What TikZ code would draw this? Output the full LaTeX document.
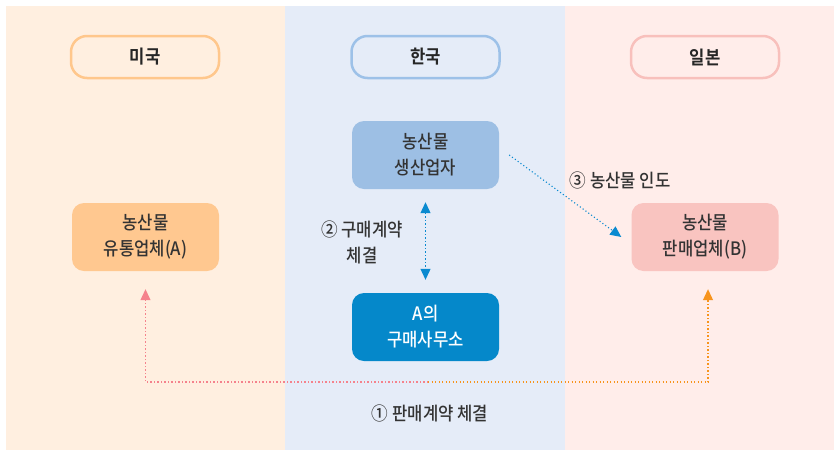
\documentclass[tikz,border=0pt]{standalone}
\usepackage{fontspec}
\setmainfont{Noto Sans CJK KR Medium}[BoldFont={Noto Sans CJK KR Bold}, FakeStretch=0.9]
\usetikzlibrary{arrows.meta}
\definecolor{usbg}{RGB}{255,239,224}
\definecolor{krbg}{RGB}{229,236,248}
\definecolor{jpbg}{RGB}{255,237,234}
\definecolor{usline}{RGB}{255,199,140}
\definecolor{krline}{RGB}{157,193,232}
\definecolor{jpline}{RGB}{248,192,188}
\definecolor{afill}{RGB}{255,200,144}
\definecolor{farmfill}{RGB}{157,191,228}
\definecolor{officefill}{RGB}{5,136,202}
\definecolor{bfill}{RGB}{249,196,192}
\definecolor{arrowblue}{RGB}{10,138,208}
\definecolor{arrowpink}{RGB}{245,130,140}
\definecolor{arroworange}{RGB}{247,148,29}
\definecolor{txtgrey}{RGB}{51,51,51}

\begin{document}
\begin{tikzpicture}[x=1pt, y=-1pt, font=\fontsize{18.5}{26}\selectfont, text=txtgrey,
  hdr/.style={draw, line width=2.5pt, rounded corners=16pt, minimum width=148pt,
              minimum height=42pt, font=\fontsize{18.5}{20}\selectfont\bfseries, text=black!85},
  box/.style={rounded corners=12pt, minimum width=147pt, minimum height=68pt, align=center},
  dots/.style={line width=1.1pt, dash pattern=on 1.1pt off 2.4pt},
  tip/.style={-{Triangle[width=10pt,length=11pt]}},
  twoway/.style={{Triangle[width=10pt,length=11pt]}-{Triangle[width=10pt,length=11pt]}}]
  \useasboundingbox (0,0) rectangle (834,450);
  % country panels
  \fill[usbg] (6,6) rectangle (285,450);
  \fill[krbg] (285,6) rectangle (565,450);
  \fill[jpbg] (565,6) rectangle (834,450);
  % headers
  \node[hdr, draw=usline] (us) at (145,57) {미국};
  \node[hdr, draw=krline] (kr) at (425.5,57) {한국};
  \node[hdr, draw=jpline] (jp) at (705,57) {일본};
  % actors
  \node[box, fill=afill] (distA) at (145.5,237) {농산물\\유통업체(A)};
  \node[box, fill=farmfill] (farmer) at (425.5,155) {농산물\\생산업자};
  \node[box, fill=officefill, text=white] (office) at (425.5,327) {A의\\구매사무소};
  \node[box, fill=bfill] (sellB) at (705,237) {농산물\\판매업체(B)};
  % flows
  \draw[dots, twoway, arrowblue, shorten <=13pt, shorten >=13pt] (farmer) -- (office);
  \draw[dots, tip, arrowblue] ([xshift=10pt]farmer.east) -- ([xshift=-10pt]sellB.west);
  \coordinate (mid) at (428,382);
  \draw[dots, tip, arrowpink, shorten >=18pt] (mid) -| (distA.south);
  \draw[dots, tip, arroworange, shorten >=18pt] (mid) -| ([xshift=3pt]sellB.south);
  % labels
  \node (sale) at (430,413) {① 판매계약 체결};
  \node[align=center] (buy) at (362,242) {② 구매계약\\체결};
  \node (deliver) at (620,180) {③ 농산물 인도};
\end{tikzpicture}
\end{document}
